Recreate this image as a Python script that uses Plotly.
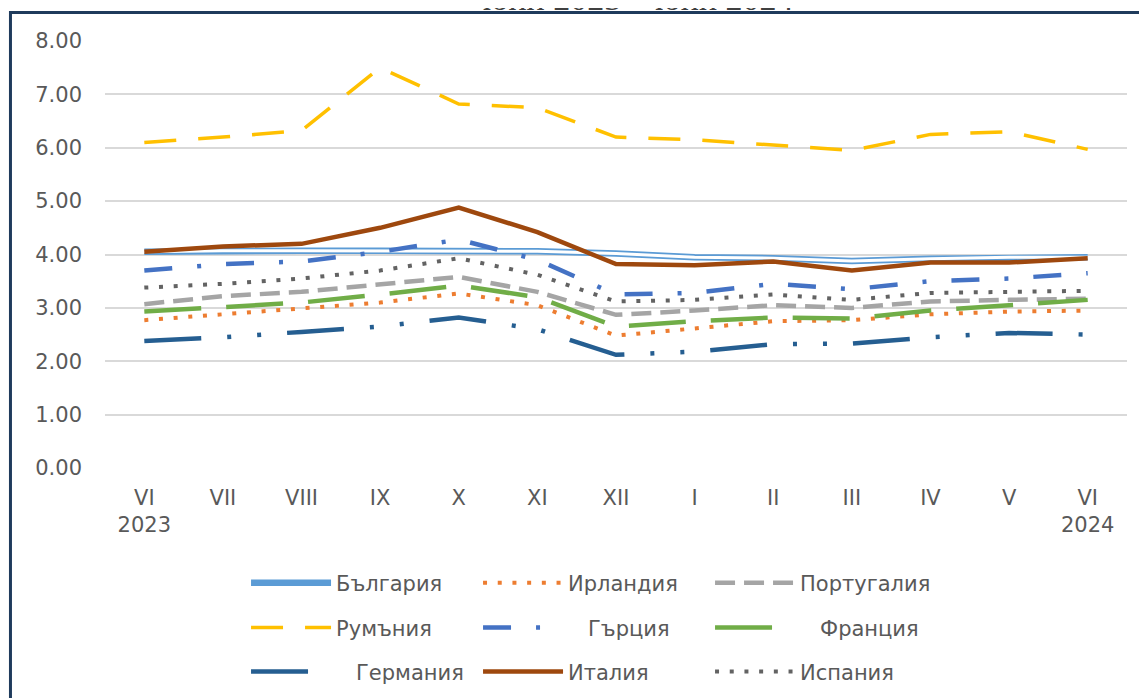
import plotly.graph_objects as go

# months Jun 2023 - Jun 2024
months = ["VI", "VII", "VIII", "IX", "X", "XI", "XII", "I", "II", "III", "IV", "V", "VI"]
tick_labels = ["VI<br>2023", "VII", "VIII", "IX", "X", "XI", "XII", "I", "II", "III", "IV", "V", "VI<br>2024"]

bulgaria = [4.05, 4.07, 4.07, 4.07, 4.07, 4.06, 4.02, 3.95, 3.93, 3.88, 3.92, 3.95, 3.95]
ireland = [2.77, 2.88, 2.98, 3.10, 3.27, 3.05, 2.48, 2.62, 2.75, 2.77, 2.88, 2.93, 2.95]
portugal = [3.07, 3.22, 3.30, 3.45, 3.58, 3.30, 2.87, 2.95, 3.05, 3.00, 3.12, 3.15, 3.17]
romania = [6.10, 6.20, 6.32, 7.50, 6.82, 6.75, 6.20, 6.15, 6.05, 5.95, 6.25, 6.30, 5.97]
greece = [3.70, 3.82, 3.87, 4.05, 4.28, 3.90, 3.25, 3.28, 3.45, 3.35, 3.50, 3.55, 3.65]
france = [2.93, 3.02, 3.10, 3.25, 3.42, 3.20, 2.65, 2.75, 2.82, 2.80, 2.95, 3.05, 3.15]
germany = [2.38, 2.45, 2.55, 2.65, 2.82, 2.60, 2.12, 2.18, 2.32, 2.33, 2.45, 2.53, 2.50]
italy = [4.05, 4.15, 4.20, 4.50, 4.88, 4.42, 3.82, 3.80, 3.87, 3.70, 3.85, 3.85, 3.93]
spain = [3.38, 3.45, 3.55, 3.70, 3.93, 3.62, 3.12, 3.15, 3.25, 3.15, 3.28, 3.30, 3.32]

x = list(range(len(months)))
nb = "\u00a0\u00a0\u00a0"

fig = go.Figure()

# Bulgaria - double line (blue outline, white core)
fig.add_trace(go.Scatter(x=x, y=bulgaria, name="България", mode="lines", legend="legend",
                         line=dict(color="#5B9BD5", width=6.5)))
fig.add_trace(go.Scatter(x=x, y=bulgaria, mode="lines", showlegend=False, hoverinfo="skip",
                         line=dict(color="white", width=3)))
fig.add_trace(go.Scatter(x=x, y=ireland, name="Ирландия", mode="lines", legend="legend",
                         line=dict(color="#ED7D31", width=4, dash="4px,10.7px")))
fig.add_trace(go.Scatter(x=x, y=portugal, name="Португалия", mode="lines", legend="legend",
                         line=dict(color="#A5A5A5", width=4.5, dash="20px,9px")))

fig.add_trace(go.Scatter(x=x, y=romania, name="Румъния", mode="lines", legend="legend2",
                         line=dict(color="#FFC000", width=3.5, dash="32px,22px")))
fig.add_trace(go.Scatter(x=x, y=greece, name=nb + "Гърция", mode="lines", legend="legend2",
                         line=dict(color="#4472C4", width=4.5, dash="28px,25px,4px,25px")))
fig.add_trace(go.Scatter(x=x, y=france, name=nb + "Франция", mode="lines", legend="legend2",
                         line=dict(color="#70AD47", width=4.5, dash="57px,25px")))

fig.add_trace(go.Scatter(x=x, y=germany, name=nb + "Германия", mode="lines", legend="legend3",
                         line=dict(color="#255E91", width=4.5, dash="57px,26px,4px,26px,4px,26px")))
fig.add_trace(go.Scatter(x=x, y=italy, name="Италия", mode="lines", legend="legend3",
                         line=dict(color="#9E480E", width=4.5)))
fig.add_trace(go.Scatter(x=x, y=spain, name="Испания", mode="lines", legend="legend3",
                         line=dict(color="#636363", width=4, dash="4px,10.7px")))

font_txt = dict(family="DejaVu Sans", size=21, color="#595959")
leg = dict(orientation="h", x=0.138, xanchor="left", yanchor="middle",
           itemwidth=80, entrywidth=137, font=font_txt, bgcolor="rgba(0,0,0,0)",
           traceorder="normal")

fig.update_layout(
    width=1147, height=698,
    margin=dict(l=97, r=28, t=33, b=238, autoexpand=False),
    paper_bgcolor="white", plot_bgcolor="white",
    legend=dict(leg, y=-0.2693),
    legend2=dict(leg, y=-0.3743),
    legend3=dict(leg, y=-0.4773),
    xaxis=dict(range=[-0.5, 12.5], tickvals=x, ticktext=tick_labels, showgrid=False,
               zeroline=False, showline=False, ticks="", tickfont=dict(family="DejaVu Sans", size=21, color="#595959"),
               ticklabelstandoff=15),
    yaxis=dict(range=[0, 8], dtick=1, tickformat=".2f", showgrid=True, gridcolor="#D9D9D9",
               gridwidth=2, zeroline=False, showline=False, ticks="",
               tickfont=dict(family="DejaVu Sans", size=21, color="#595959"),
               ticklabelstandoff=22),
    showlegend=True,
)

# title cut off at the top
fig.add_annotation(text="юни 2023 – юни 2024", x=0.5225, y=1.052, xref="paper", yref="paper",
                   xanchor="center", yanchor="bottom", showarrow=False,
                   font=dict(family="Liberation Serif", size=34, color="#404040"))

# dark blue frame (top and left edges visible)
fig.add_shape(type="rect", xref="paper", yref="paper", x0=-0.0925, x1=1.05, y0=-0.75, y1=1.067,
              line=dict(color="#1F3B5C", width=3), layer="below")

fig.write_html("out.html")
